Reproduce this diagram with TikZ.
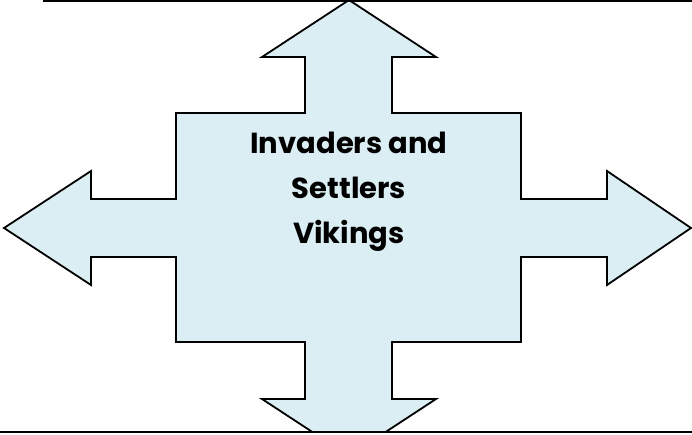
\documentclass[tikz,border=0pt]{standalone}
\usepackage{fontspec}
\setmainfont{Poppins}
\definecolor{arrowfill}{RGB}{219,238,244}
\begin{document}
\begin{tikzpicture}[x=1pt,y=-1pt,
  shapeline/.style={draw=black,line width=1.8pt,line join=miter,fill=arrowfill},
  rule/.style={draw=black,line width=1.8pt},
  label/.style={align=center,font=\bfseries\fontsize{29}{45}\selectfont,text=black}]
\useasboundingbox (0,0) rectangle (692,434);
\begin{scope}
\clip (-10,-10) rectangle (702,432);
\draw[shapeline] (349,0) -- (436,57) -- (392,57) -- (392,113) -- (521,113) -- (521,199) -- (607,199) -- (607,171) -- (691,228) -- (607,285) -- (607,257) -- (521,257) -- (521,342) -- (392,342) -- (392,399) -- (436,399) -- (349,456) -- (262,399) -- (305,399) -- (305,342) -- (176,342) -- (176,257) -- (91,257) -- (91,285) -- (4,228) -- (91,171) -- (91,199) -- (176,199) -- (176,113) -- (305,113) -- (305,57) -- (262,57) -- cycle;
\end{scope}
\coordinate (tl) at (43,0.8);
\coordinate (tr) at (692,0.8);
\coordinate (bl) at (0,432);
\coordinate (br) at (692,432);
\draw[rule] (tl) -- (tr);
\draw[rule] (bl) -- (br);
\node[label] (title) at (349,191.5) {Invaders and\\Settlers\\Vikings};
\end{tikzpicture}
\end{document}
